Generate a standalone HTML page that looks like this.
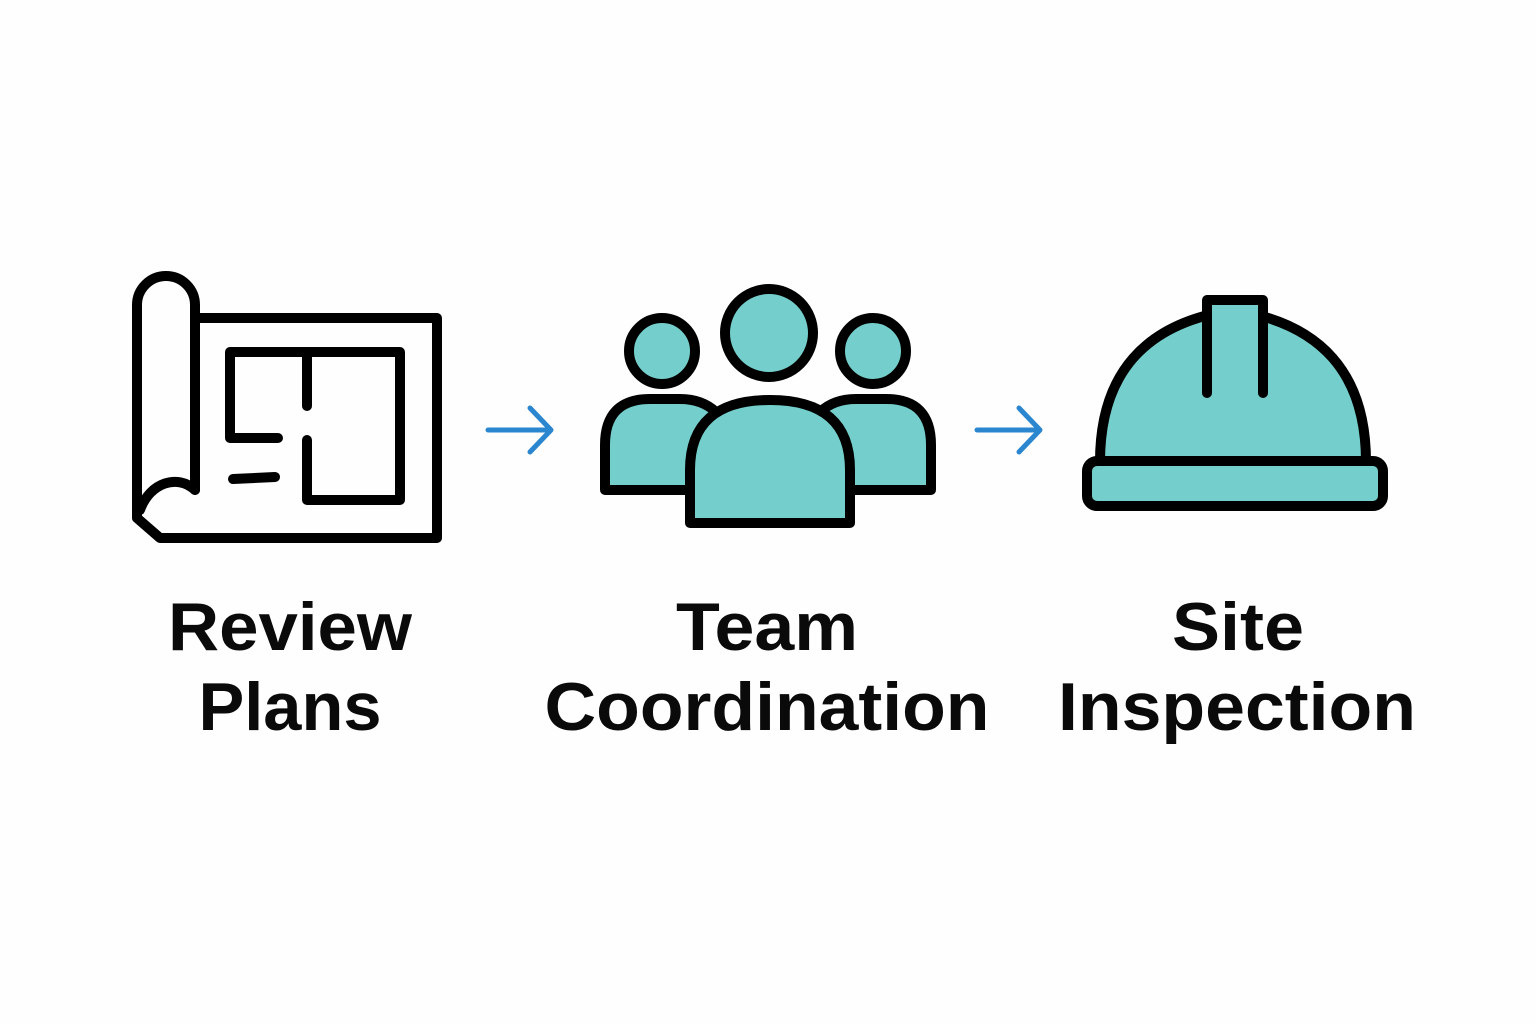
<!DOCTYPE html>
<html><head><meta charset="utf-8"><style>
html,body{margin:0;padding:0;background:#fff;}
svg{display:block}
text{font-family:"Liberation Sans",sans-serif;font-weight:bold;font-size:68px;fill:#0a0a0a;text-anchor:middle}
</style></head><body>
<svg width="1536" height="1024" viewBox="0 0 1536 1024">
<rect width="1536" height="1024" fill="#fefefe"/>
<g fill="none" stroke="#000" stroke-width="10" stroke-linecap="round" stroke-linejoin="round">
<path d="M195,490 V305 A29,29 0 0 0 137,305 V518 L160,538 H437 V318 H197"/>
<path d="M140,510 C150,482 178,474 195,490"/>
<path d="M278,438 H230 V352 H400 V500 H307 V440"/>
<path d="M307,355 V406"/>
<path d="M233,479 L275,477"/>
</g>
<g fill="none" stroke="#2b86d0" stroke-width="5" stroke-linecap="round" stroke-linejoin="round">
<path d="M488,430 H550 M530,408 L551,430 L530,452"/>
<path d="M977,430 H1039 M1019,408 L1040,430 L1019,452"/>
</g>
<g fill="#74cfcc" stroke="#000" stroke-width="10" stroke-linejoin="round">
<circle cx="662" cy="351" r="33"/>
<circle cx="873" cy="351" r="33"/>
<circle cx="769" cy="333" r="44"/>
<path d="M605,490 V445 Q605,399 650,399 H680 Q702,399 716,412 L700,490 Z"/>
<path d="M931,490 V445 Q931,399 886,399 H856 Q834,399 820,412 L836,490 Z"/>
<path d="M690,523 V470 Q690,400 770,400 Q850,400 850,470 V523 Z"/>
</g>
<g fill="#74cfcc" stroke="#000" stroke-width="10" stroke-linejoin="round" stroke-linecap="round">
<path d="M1100,462 Q1100,330 1233,310 Q1366,330 1366,462 Z"/>
<path d="M1207,393 V300 H1263 V393" />
<rect x="1087" y="461" width="296" height="45" rx="10"/>
</g>
<text x="290" y="650" textLength="244" lengthAdjust="spacingAndGlyphs">Review</text>
<text x="290" y="730" textLength="183" lengthAdjust="spacingAndGlyphs">Plans</text>
<text x="767" y="650" textLength="182" lengthAdjust="spacingAndGlyphs">Team</text>
<text x="767" y="730" textLength="445" lengthAdjust="spacingAndGlyphs">Coordination</text>
<text x="1238" y="650" textLength="132" lengthAdjust="spacingAndGlyphs">Site</text>
<text x="1237" y="730" textLength="358" lengthAdjust="spacingAndGlyphs">Inspection</text>
</svg>
</body></html>
